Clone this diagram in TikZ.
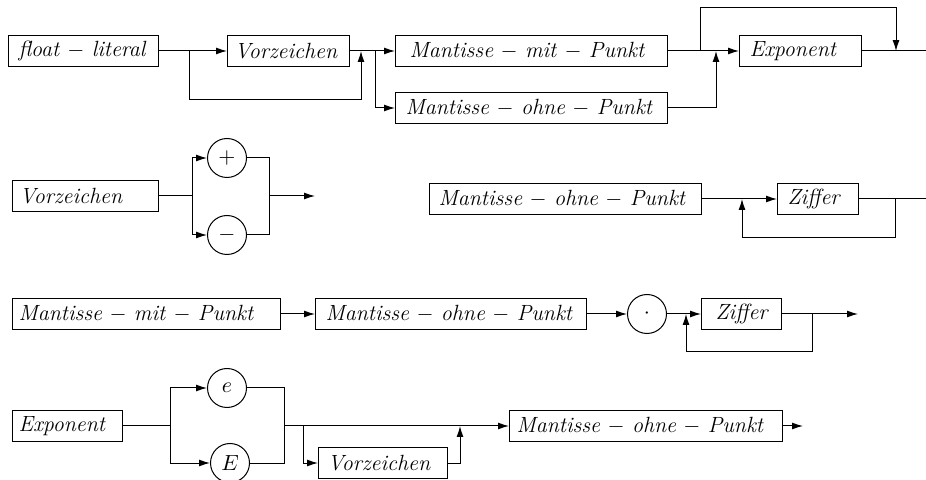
\documentclass[tikz,border=0pt]{standalone}
\usetikzlibrary{arrows.meta}
\begin{document}
\begin{tikzpicture}[x=0.5pt,y=-0.5pt,line width=0.5pt,
  box/.style 2 args={draw, anchor=west, minimum height=15.5pt, inner ysep=0pt,
    inner xsep=#1, text width=#2, align=left, font=\fontsize{11}{13}\selectfont},
  term/.style={draw, circle, minimum size=19.5pt, inner sep=0pt, font=\fontsize{11}{13}\selectfont},
  arr/.style={-{Latex[length=5.4pt,width=3.4pt]}}]
\useasboundingbox (0,0) rectangle (926,480);

% ---------- Row 1 : float-literal ----------
\node[box={5pt}{65pt}] (fl) at (8,51) {\mbox{\textit{float} $-$ \textit{literal}}};
\node[box={3.5pt}{54pt}] (vz1) at (227,51) {\mbox{\textit{Vorzeichen}}};
\node[box={7pt}{122pt}] (mmp1) at (395,51) {\mbox{\textit{Mantisse} $-$ \textit{mit} $-$ \textit{Punkt}}};
\node[box={5pt}{126pt}] (mop1) at (395,108) {\mbox{\textit{Mantisse} $-$ \textit{ohne} $-$ \textit{Punkt}}};
\node[box={5pt}{51pt}] (exp1) at (739,51) {\mbox{\textit{Exponent}}};
\coordinate (a1) at (189,51);
\coordinate (a1d) at (361,100);
\coordinate (a2) at (361,51);
\coordinate (b1) at (375,51);
\coordinate (b2) at (716,51);
\coordinate (c1) at (700,51);
\coordinate (ctop) at (896,8);
\coordinate (c2) at (896,51);
\coordinate (end1) at (940,51);
\draw[arr] (fl.east) -- (vz1.west);
\draw[arr] (a1) |- (a1d) -- (a2);
\draw[arr] (vz1.east) -- (mmp1.west);
\draw[arr] (b1) |- (mop1.west);
\draw[arr] (mmp1.east) -- (exp1.west);
\draw[arr] (mop1.east) -| (b2);
\draw[arr] (c1) |- (ctop) -- (c2);
\draw[arr] (exp1.east) -- (end1);

% ---------- Row 2 left : Vorzeichen ----------
\node[box={3.5pt}{66pt}] (vz2) at (12,196) {\mbox{\textit{Vorzeichen}}};
\node[term] (plus) at (227,158) {$+$};
\node[term] (minus) at (227,235) {$-$};
\coordinate (d1) at (192,196);
\coordinate (d2) at (269,196);
\coordinate (d3) at (315,196);
\draw (vz2.east) -- (d1);
\draw[arr] (d1) |- (plus.west);
\draw[arr] (d1) |- (minus.west);
\draw (plus.east) -| (d2);
\draw (minus.east) -| (d2);
\draw[arr] (d2) -- (d3);

% ---------- Row 2 right : Mantisse-ohne-Punkt ----------
\node[box={4.5pt}{127pt}] (mop2) at (429,199) {\mbox{\textit{Mantisse} $-$ \textit{ohne} $-$ \textit{Punkt}}};
\node[box={5pt}{30.5pt}] (zif2) at (777,199) {\mbox{\textit{Ziffer}}};
\coordinate (g1) at (742,199);
\coordinate (g1d) at (742,238);
\coordinate (g2) at (895,199);
\coordinate (end2) at (940,199);
\draw[arr] (mop2.east) -- (zif2.west);
\draw[arr] (zif2.east) -- (end2);
\draw[arr] (g2) |- (g1d) -- (g1);

% ---------- Row 3 : Mantisse-mit-Punkt ----------
\node[box={3pt}{128pt}] (mmp3) at (12,314) {\mbox{\textit{Mantisse} $-$ \textit{mit} $-$ \textit{Punkt}}};
\node[box={5pt}{125.5pt}] (mop3) at (315,314) {\mbox{\textit{Mantisse} $-$ \textit{ohne} $-$ \textit{Punkt}}};
\node[term] (dot) at (647,314) {$\cdot$};
\node[box={7pt}{26pt}] (zif3) at (701,314) {\mbox{\textit{Ziffer}}};
\coordinate (k1) at (686,314);
\coordinate (k1d) at (686,352);
\coordinate (k2) at (812,314);
\coordinate (end3) at (858,314);
\draw[arr] (mmp3.east) -- (mop3.west);
\draw[arr] (mop3.east) -- (dot.west);
\draw[arr] (dot.east) -- (zif3.west);
\draw[arr] (zif3.east) -- (end3);
\draw[arr] (k2) |- (k1d) -- (k1);

% ---------- Row 4 : Exponent ----------
\node[box={3pt}{49pt}] (exp4) at (12,426) {\mbox{\textit{Exponent}}};
\node[term] (e) at (227,388) {$e$};
\node[term] (E) at (230,463) {$E$};
\node[box={4.5pt}{55.5pt}] (vz4) at (318,463) {\mbox{\textit{Vorzeichen}}};
\node[box={3.5pt}{129.5pt}] (mop4) at (509,426) {\mbox{\textit{Mantisse} $-$ \textit{ohne} $-$ \textit{Punkt}}};
\coordinate (h1) at (170,426);
\coordinate (h2) at (284,426);
\coordinate (h3) at (303,426);
\coordinate (h4) at (460,426);
\coordinate (end4) at (803,426);
\draw (exp4.east) -- (h1);
\draw[arr] (h1) |- (e.west);
\draw[arr] (h1) |- (E.west);
\draw (e.east) -| (h2);
\draw (E.east) -| (h2);
\draw[arr] (h2) -- (mop4.west);
\draw[arr] (h3) |- (vz4.west);
\draw[arr] (vz4.east) -| (h4);
\draw[arr] (mop4.east) -- (end4);
\end{tikzpicture}
\end{document}
